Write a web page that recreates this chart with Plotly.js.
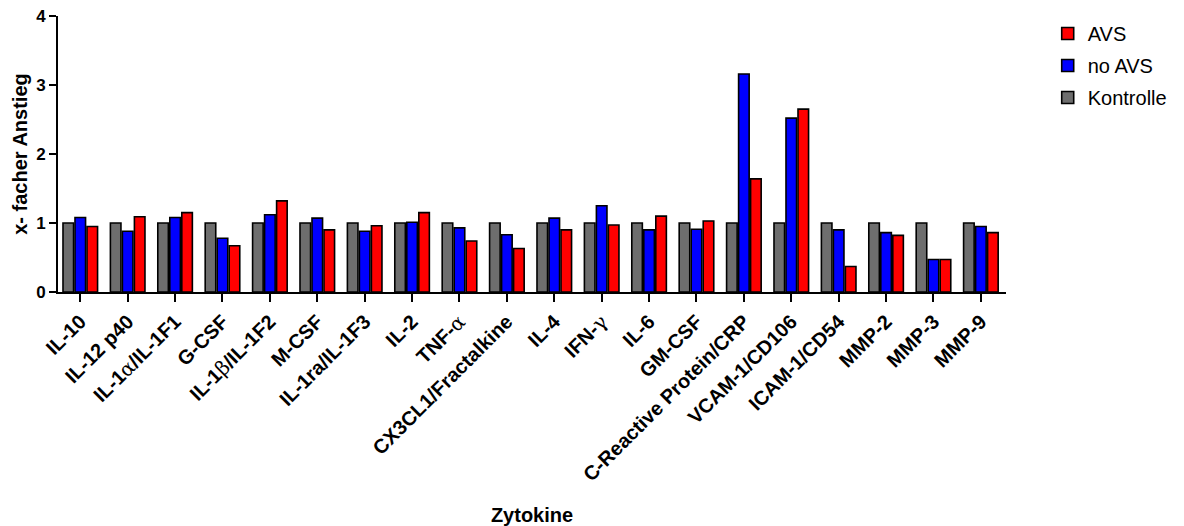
<!DOCTYPE html>
<html>
<head>
<meta charset="utf-8">
<script src="https://cdn.plot.ly/plotly-3.0.1.min.js"></script>
<style>html,body{margin:0;padding:0;background:#fff;}#chart{width:1184px;height:526px;}</style>
</head>
<body>
<div id="chart"></div>
<script>
var categories = ["IL-10","IL-12 p40","IL-1α/IL-1F1","G-CSF","IL-1β/IL-1F2","M-CSF","IL-1ra/IL-1F3","IL-2","TNF-α","CX3CL1/Fractalkine","IL-4","IFN-γ","IL-6","GM-CSF","C-Reactive Protein/CRP","VCAM-1/CD106","ICAM-1/CD54","MMP-2","MMP-3","MMP-9"];
var tickLabels = ["IL-10","IL-12 p40","IL-1<span style=\"font-family:'DejaVu Serif';font-weight:normal\">α</span>/IL-1F1","G-CSF","IL-1<span style=\"font-family:'DejaVu Serif';font-weight:normal\">β</span>/IL-1F2","M-CSF","IL-1ra/IL-1F3","IL-2","TNF-<span style=\"font-family:'DejaVu Serif';font-weight:normal\">α</span>","CX3CL1/Fractalkine","IL-4","IFN-<span style=\"font-family:'DejaVu Serif';font-weight:normal\">γ</span>","IL-6","GM-CSF","C-Reactive Protein/CRP","VCAM-1/CD106","ICAM-1/CD54","MMP-2","MMP-3","MMP-9"];
var kontrolle = [1,1,1,1,1,1,1,1,1,1,1,1,1,1,1,1,1,1,1,1];
var noAVS = [1.08,0.88,1.08,0.78,1.12,1.07,0.88,1.01,0.93,0.83,1.07,1.25,0.90,0.91,3.16,2.52,0.90,0.86,0.47,0.95];
var avs = [0.95,1.09,1.15,0.67,1.32,0.90,0.96,1.15,0.74,0.63,0.90,0.97,1.10,1.03,1.64,2.65,0.37,0.82,0.47,0.86];

var idx = categories.map(function(_, i){ return i; });
function mk(name, y, color, rank){
  return {type:'bar', name:name, x:idx, y:y, legendgroup:name, legendrank:rank,
    marker:{color:color, line:{color:'#000', width:1.6}}};
}
var traces = [mk('Kontrolle', kontrolle, '#6e6e6e', 3), mk('no AVS', noAVS, '#0000ff', 2), mk('AVS', avs, '#ff0000', 1)];
var F = 'Liberation Sans, Arial, sans-serif';
var layout = {
  width:1184, height:526,
  margin:{l:58, r:176, t:16, b:234},
  barmode:'group', bargap:0.24, bargroupgap:0.12,
  paper_bgcolor:'#fff', plot_bgcolor:'#fff',
  font:{family:F, color:'#000'},
  showlegend:true,
  legend:{x:1.044, y:1.007, xanchor:'left', yanchor:'top', traceorder:'grouped', tracegroupgap:3,
    font:{family:F, size:20, color:'#000'}},
  xaxis:{range:[-0.47,19.53], tickvals:idx, ticktext:tickLabels, tickangle:-45,
    showline:true, linecolor:'#000', linewidth:2, ticks:'outside', ticklen:8, tickwidth:2, tickcolor:'#000',
    showgrid:false, zeroline:false, automargin:false,
    tickfont:{family:F, size:20, color:'#000', weight:'bold'},
    title:{text:'<b>Zytokine</b>', font:{family:F, size:20, color:'#000'}, standoff:24}},
  yaxis:{range:[0,4], tickvals:[0,1,2,3,4], showline:true, linecolor:'#000', linewidth:2,
    ticks:'outside', ticklen:7, tickwidth:2, tickcolor:'#000', showgrid:false, zeroline:false, automargin:false,
    tickfont:{family:F, size:17, color:'#000', weight:'bold'},
    title:{text:'<b>x- facher Anstieg</b>', font:{family:F, size:20, color:'#000'}, standoff:3}}
};
Plotly.newPlot('chart', traces, layout, {displayModeBar:false, staticPlot:true});
</script>
</body>
</html>
